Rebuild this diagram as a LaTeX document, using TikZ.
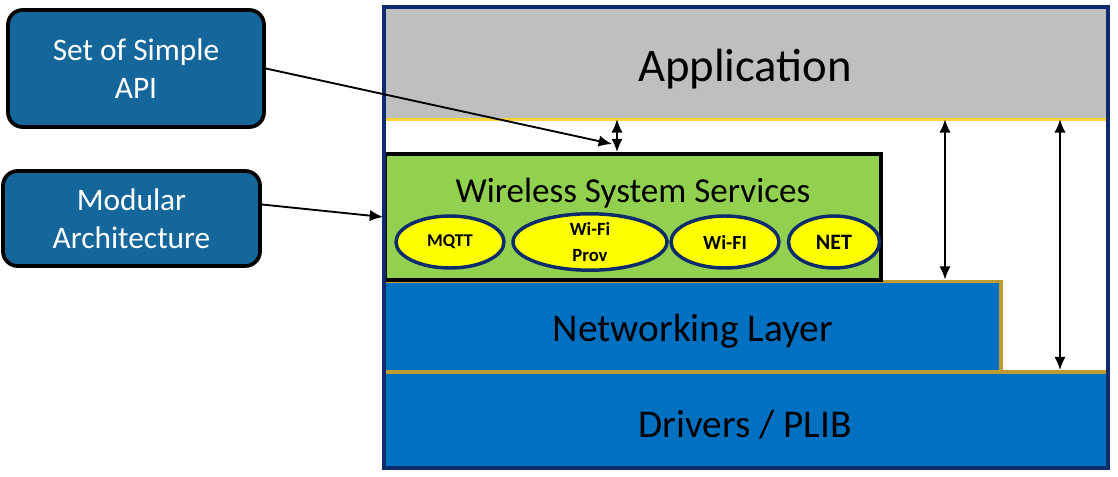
\documentclass[tikz,border=0pt]{standalone}
\usepackage{fontspec}
\setmainfont{Carlito}
\usetikzlibrary{arrows.meta,shapes.geometric,calc}
\definecolor{boxblue}{HTML}{15669A}
\definecolor{navy}{HTML}{0D2C6C}
\definecolor{gold}{HTML}{BF9B30}
\definecolor{layblue}{HTML}{0070C0}
\definecolor{wssgreen}{HTML}{92D050}
\definecolor{appgray}{HTML}{BFBFBF}
\definecolor{lineyellow}{HTML}{FFD43B}
\definecolor{elyellow}{HTML}{FFFF00}
\begin{document}
\begin{tikzpicture}[x=0.75pt,y=-0.75pt,
  callout/.style={draw=black,line width=2.8pt,fill=boxblue,rounded corners=11pt,text=white,
    align=center,font=\fontsize{23.5}{28.5}\selectfont,inner sep=0pt},
  layer/.style={inner sep=0pt,font=\fontsize{29.5}{34}\selectfont},
  svc/.style={ellipse,draw=navy,line width=2.6pt,fill=elyellow,inner sep=0pt,font=\bfseries,align=center},
  ptr/.style={line width=1.4pt,-{Latex[length=10pt,width=8.5pt]}},
  dbl/.style={line width=1.4pt,{Latex[length=10pt,width=8.5pt]}-{Latex[length=10pt,width=8.5pt]}}]
\useasboundingbox (0,0) rectangle (1118,477);
% Application
\node[fill=appgray,minimum width=724*0.75pt,minimum height=112*0.75pt,inner sep=0pt] (app) at (746,63) {};
\node[inner sep=0pt,font=\fontsize{35}{40}\selectfont] (appt) at (745,69) {Application};
\draw[lineyellow,line width=2.6pt] (app.south west) -- (app.south east);
% Drivers
\node[layer,fill=layblue,draw=gold,line width=2.8pt,minimum width=724*0.75pt,minimum height=96*0.75pt] (drv) at (746,420) {};
\node[layer] (drvt) at (745,425) {Drivers / PLIB};
% Networking
\node[layer,fill=layblue,draw=gold,line width=2.8pt,minimum width=617*0.75pt,minimum height=90*0.75pt] (net) at (692.5,326.5) {};
\node[layer] (nett) at (693,331) {Networking Layer};
% WSS
\node[draw=black,line width=2.8pt,fill=wssgreen,minimum width=496*0.75pt,minimum height=126*0.75pt,inner sep=0pt] (wss) at (633,217) {};
\node[font=\fontsize{26.3}{30}\selectfont,inner sep=0pt] (wsst) at (633,193) {Wireless System Services};
\node[svc,minimum width=108*0.75pt,minimum height=52*0.75pt,font=\bfseries\fontsize{13.5}{15}\selectfont] (mqtt) at (450,242) {MQTT};
\node[svc,minimum width=154*0.75pt,minimum height=54*0.75pt,font=\bfseries\fontsize{14}{20}\selectfont] (prov) at (590,242) {Wi-Fi\\Prov};
\node[svc,minimum width=108*0.75pt,minimum height=52*0.75pt,font=\bfseries\fontsize{15}{17}\selectfont] (wifi) at (725,242) {Wi-FI};
\node[svc,minimum width=91*0.75pt,minimum height=52*0.75pt,font=\bfseries\fontsize{16.5}{18}\selectfont] (netsvc) at (834,242) {NET};
% outer frame
\node[draw=navy,line width=2.8pt,minimum width=724*0.75pt,minimum height=461*0.75pt,inner sep=0pt] (frame) at (746,237.5) {};
% callouts
\node[callout,minimum width=256*0.75pt,minimum height=117*0.75pt] (api) at (136,68.5) {Set of Simple\\API};
\node[callout,minimum width=257*0.75pt,minimum height=95*0.75pt] (mod) at (131.5,218.5) {Modular\\Architecture};
% connectors
\coordinate (apitip) at (612,144);
\draw[ptr] (api.east) -- (apitip);
\draw[ptr] ($(mod.east)+(0,-14)$) -- (wss.west);
\coordinate (c1) at (617,0);
\coordinate (c2) at (945,0);
\coordinate (c3) at (1060,0);
\draw[dbl] (app.south -| c1) -- (wss.north -| c1);
\draw[dbl] (app.south -| c2) -- (net.north -| c2);
\draw[dbl] (app.south -| c3) -- (drv.north -| c3);
\end{tikzpicture}
\end{document}
